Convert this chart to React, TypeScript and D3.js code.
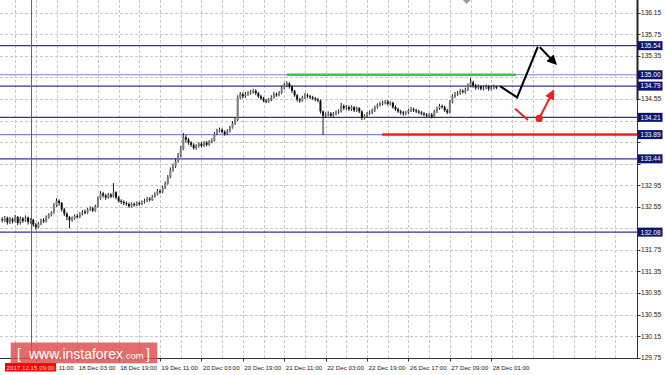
import React from 'react';
import * as d3 from 'd3';

// ---------- data ----------
const firstOpen = 132.32;
const closes = [
  132.30,132.34,132.26,132.32,132.28,132.36,132.25,132.33,132.29,132.35,132.27,132.31,
  132.22,132.17,
  132.24,132.30,132.28,132.36,132.40,132.44,
  132.58,132.66,132.62,
  132.50,132.42,132.36,132.30,
  132.34,132.38,132.36,132.42,132.46,132.44,132.50,132.52,132.48,132.56,
  132.70,132.80,
  132.76,132.72,132.78,132.74,132.82,
  132.72,132.66,132.64,132.62,
  132.60,132.56,132.60,132.58,132.62,132.60,132.64,132.66,
  132.70,132.68,132.74,132.78,
  132.84,132.82,132.90,
  132.98,133.10,133.24,133.30,133.40,133.50,
  133.62,133.84,133.80,
  133.74,133.70,133.64,133.68,
  133.72,133.68,133.74,133.70,133.76,133.78,
  133.90,133.96,
  133.98,133.94,133.90,133.96,134.02,
  134.10,134.16,
  134.58,
  134.64,134.60,134.64,134.66,
  134.68,134.70,134.66,
  134.60,134.56,134.52,134.50,134.54,
  134.58,134.64,134.62,134.66,
  134.76,134.80,134.84,134.78,
  134.70,134.62,134.54,134.52,
  134.58,134.62,134.60,134.58,
  134.56,134.54,134.52,
  134.32,134.24,
  134.26,134.28,134.24,134.28,134.30,134.32,
  134.42,134.38,134.40,134.36,134.40,
  134.34,134.38,134.32,
  134.20,
  134.24,134.28,134.30,134.34,134.40,134.44,
  134.46,134.48,134.50,134.46,134.48,
  134.40,134.36,134.32,134.30,134.28,134.30,134.34,
  134.36,134.34,134.32,134.30,
  134.28,134.26,134.24,134.26,134.22,
  134.32,134.38,134.42,
  134.40,134.34,134.30,
  134.50,134.60,134.64,
  134.66,134.70,134.68,134.72,134.80,
  134.86,
  134.80,134.76,134.78,134.74,134.76,
  134.78,134.74,134.76,134.78,134.76,
];
const highs = [
  132.36,132.38,132.37,132.36,132.35,132.40,132.38,132.37,132.36,132.39,132.37,132.34,
  132.33,132.25,
  132.27,132.33,132.34,132.39,132.43,132.47,
  132.62,132.71,132.69,
  132.64,132.53,132.45,132.38,
  132.37,132.41,132.42,132.45,132.49,132.50,132.53,132.56,132.55,132.59,
  132.74,132.84,
  132.83,132.79,132.81,132.80,132.99,
  132.84,132.75,132.69,132.67,
  132.65,132.63,132.63,132.63,132.65,132.65,132.67,132.70,
  132.73,132.73,132.77,132.82,
  132.88,132.88,132.94,
  133.02,133.14,133.28,133.35,133.44,133.55,
  133.68,133.92,133.88,
  133.83,133.77,133.73,133.71,
  133.75,133.75,133.77,133.77,133.79,133.82,
  133.94,134.00,
  134.02,134.01,133.97,133.99,134.05,
  134.14,134.20,
  134.62,
  134.68,134.67,134.68,134.70,
  134.72,134.74,134.73,
  134.68,134.63,134.59,134.55,134.57,
  134.62,134.68,134.67,134.70,
  134.80,134.85,134.88,134.86,
  134.80,134.72,134.64,134.57,
  134.61,134.66,134.65,134.63,
  134.61,134.59,134.57,
  134.54,134.34,
  134.30,134.32,134.31,134.31,134.34,134.36,
  134.48,134.45,134.44,134.43,134.43,
  134.42,134.41,134.40,
  134.34,
  134.27,134.31,134.34,134.37,134.43,134.47,
  134.50,134.52,134.53,134.53,134.51,
  134.50,134.43,134.39,134.35,134.33,134.33,134.37,
  134.40,134.39,134.37,134.35,
  134.33,134.31,134.29,134.29,134.29,
  134.35,134.41,134.46,
  134.45,134.43,134.37,
  134.53,134.64,134.68,
  134.70,134.74,134.73,134.76,134.84,
  134.94,
  134.89,134.83,134.82,134.81,134.80,
  134.82,134.81,134.80,134.82,134.80,
];
const lows = [
  132.26,132.27,132.22,132.23,132.24,132.26,132.21,132.22,132.25,132.27,132.22,132.24,
  132.18,132.12,
  132.15,132.21,132.25,132.26,132.33,132.37,
  132.42,132.55,132.57,
  132.46,132.38,132.30,132.15,
  132.27,132.31,132.33,132.34,132.39,132.41,132.42,132.47,132.45,132.46,
  132.54,132.68,
  132.72,132.68,132.70,132.71,132.72,
  132.69,132.63,132.60,132.58,
  132.57,132.53,132.54,132.55,132.56,132.57,132.58,132.61,
  132.64,132.65,132.66,132.72,
  132.76,132.79,132.80,
  132.88,132.96,133.08,133.20,133.27,133.37,
  133.47,133.60,133.74,
  133.70,133.66,133.61,133.61,
  133.65,133.65,133.66,133.67,133.68,133.73,
  133.76,133.88,
  133.93,133.91,133.87,133.88,133.93,
  134.00,134.07,
  134.14,
  134.55,134.56,134.57,134.61,
  134.63,134.65,134.62,
  134.57,134.53,134.49,134.47,134.48,
  134.51,134.56,134.59,134.60,
  134.64,134.73,134.77,134.74,
  134.66,134.59,134.50,134.48,
  134.50,134.55,134.57,134.55,
  134.53,134.51,134.49,
  134.28,133.88,
  134.20,134.23,134.21,134.21,134.25,134.27,
  134.30,134.35,134.35,134.33,134.33,
  134.31,134.31,134.29,
  134.16,
  134.17,134.21,134.25,134.27,134.31,134.37,
  134.41,134.43,134.45,134.43,134.43,
  134.37,134.33,134.29,134.26,134.24,134.25,134.27,
  134.31,134.31,134.29,134.27,
  134.25,134.23,134.21,134.21,134.19,
  134.20,134.29,134.35,
  134.37,134.31,134.27,
  134.28,134.47,134.57,
  134.61,134.63,134.65,134.65,134.70,
  134.77,
  134.76,134.72,134.73,134.71,134.71,
  134.73,134.70,134.71,134.73,134.73,
];

const priceTicks = [136.15,135.75,135.35,134.95,134.55,134.15,133.75,133.35,132.95,132.55,132.15,131.75,131.35,130.95,130.55,130.15,129.75];
const timeLabelBars = [13,29,45,61,77,93,109,125,141,157,173,189];
const timeLabels = ['15 Dec 11:00','18 Dec 03:00','18 Dec 19:00','19 Dec 11:00','20 Dec 03:00','20 Dec 19:00','21 Dec 11:00','22 Dec 03:00','22 Dec 19:00','26 Dec 17:00','27 Dec 09:00','28 Dec 01:00'];
const levels = [135.54,135.00,134.79,134.21,133.89,133.44,132.08];
const markerBar = 11; // 2017.12.15 09:00
const markerLabel = '2017.12.15 09:00';

// forecast annotations (bar index, price)
const greenBars = [110, 198.6];
const greenPrice = 135.00;
const redLevelStartBar = 146.8;
const redLevelPrice = 133.89;
const blackPathBars = [192.4, 199.0, 207.0];
const blackPathPrices = [134.79, 134.58, 135.52];
const blackArrowBars = [207.8, 213.6];
const blackArrowPrices = [135.51, 135.22];
const redPathBars = [198.2, 203.2];
const redPathPrices = [134.37, 134.16];
const redArrowBars = [207.5, 212.8];
const redArrowPrices = [134.19, 134.68];

export default function App() {
  const W = 665, H = 375;
  const plotRight = 637.5, plotBottom = 358.5;
  const x = d3.scaleLinear().domain([0, 245]).range([2.2, 2.2 + 245 * 2.5875]);
  const y = d3.scaleLinear().domain([129.75, 136.15]).range([357.7, 12.8]);
  const opens = closes.map((c, i) => (i === 0 ? firstOpen : closes[i - 1]));
  const gridBars = d3.range(5, 240, 8);
  const line = d3.line<[number, number]>().x(d => x(d[0])).y(d => y(d[1]));
  const zip = (a: number[], b: number[]) => a.map((v, i) => [v, b[i]] as [number, number]);
  const font = 'Liberation Sans, Arial, sans-serif';
  const lightLevels = new Set([135.0, 133.89]);
  // axis tick labels that sit right under a highlighted level box are drawn clipped
  const covered = (t: number) => levels.some(l => Math.abs(y(l) - y(t)) < 9);

  return (
    <div style={{ position: 'absolute', left: 0, top: 0 }}>
      <svg width={W} height={H} style={{ display: 'block', background: '#fff' }}>
        <defs>
          <marker id="ahB" viewBox="0 0 10 10" refX="7" refY="5" markerWidth="5" markerHeight="5" orient="auto" markerUnits="strokeWidth">
            <path d="M0,0 L10,5 L0,10 z" fill="#000" />
          </marker>
          <marker id="ahR" viewBox="0 0 10 10" refX="7" refY="5" markerWidth="5" markerHeight="5" orient="auto" markerUnits="strokeWidth">
            <path d="M0,0 L10,5 L0,10 z" fill="#ee2222" />
          </marker>
        </defs>
        {/* grid */}
        {priceTicks.map(t => (
          <line key={'hg' + t} x1={0} x2={plotRight} y1={Math.round(y(t)) + 0.5} y2={Math.round(y(t)) + 0.5}
            stroke="#c8c8c8" strokeDasharray="3,2" />
        ))}
        {gridBars.map(b => (
          <line key={'vg' + b} x1={Math.round(x(b)) + 0.5} x2={Math.round(x(b)) + 0.5} y1={0} y2={plotBottom}
            stroke="#c8c8c8" strokeDasharray="3,2" />
        ))}
        {/* levels */}
        {levels.map(l => (
          <line key={'lv' + l} x1={0} x2={plotRight} y1={y(l)} y2={y(l)}
            stroke={lightLevels.has(l) ? '#8484c4' : '#34348f'} strokeWidth={1.2} />
        ))}
        {/* marker vertical line */}
        <line x1={Math.round(x(markerBar)) + 0.5} x2={Math.round(x(markerBar)) + 0.5} y1={0} y2={plotBottom} stroke="#e03030" strokeWidth={1} />
        {/* candles */}
        {closes.map((c, i) => {
          const o = opens[i];
          const xc = x(i);
          const top = y(Math.max(o, c));
          const bot = y(Math.min(o, c));
          const bull = c >= o;
          return (
            <g key={'c' + i}>
              <line x1={xc} x2={xc} y1={y(highs[i])} y2={y(lows[i])} stroke="#1a1a1a" strokeWidth={1} />
              <rect x={xc - 1} width={2} y={top} height={Math.max(1, bot - top)} fill={bull ? '#7d7d7d' : '#111'} />
            </g>
          );
        })}
        {/* green & red level segments */}
        <line x1={x(greenBars[0])} x2={x(greenBars[1])} y1={y(greenPrice)} y2={y(greenPrice)} stroke="#3cc83c" strokeWidth={2.5} />
        <line x1={x(redLevelStartBar)} x2={plotRight} y1={y(redLevelPrice)} y2={y(redLevelPrice)} stroke="#ee2222" strokeWidth={2.5} />
        {/* forecast arrows */}
        <path d={line(zip(blackPathBars, blackPathPrices)) || ''} fill="none" stroke="#000" strokeWidth={2} />
        <path d={line(zip(blackArrowBars, blackArrowPrices)) || ''} fill="none" stroke="#000" strokeWidth={2} markerEnd="url(#ahB)" />
        <path d={line(zip(redPathBars, redPathPrices)) || ''} fill="none" stroke="#ee2222" strokeWidth={2} />
        <path d={line(zip(redArrowBars, redArrowPrices)) || ''} fill="none" stroke="#ee2222" strokeWidth={2} markerEnd="url(#ahR)" />
        <circle cx={x(redArrowBars[0])} cy={y(redArrowPrices[0])} r={3.6} fill="#ee2222" />
        {/* frame */}
        <line x1={plotRight} x2={plotRight} y1={0} y2={plotBottom} stroke="#333" />
        <line x1={plotRight} x2={plotRight} y1={0} y2={100} stroke="#222" strokeWidth={2} />
        <line x1={0} x2={plotRight} y1={plotBottom} y2={plotBottom} stroke="#333" />
        <path d={`M${x(178)},0 L${x(181)},0 L${x(179.5)},4 Z`} fill="#9a9a9a" />
        {/* price axis */}
        {priceTicks.map(t => (
          <g key={'pt' + t}>
            <line x1={plotRight} x2={plotRight + 3} y1={Math.round(y(t)) + 0.5} y2={Math.round(y(t)) + 0.5} stroke="#333" />
            {!covered(t) && (
              <text x={641} y={y(t) + 2.4} fontSize={6.6} fontFamily={font} fill="#222">{t.toFixed(2)}</text>
            )}
          </g>
        ))}
        {levels.map(l => (
          <g key={'pl' + l}>
            <rect x={638} y={y(l) - 4.5} width={24.5} height={9} fill="#0c1470" />
            <text x={640.5} y={y(l) + 2.4} fontSize={6.6} fontFamily={font} fill="#fff">{l.toFixed(2)}</text>
          </g>
        ))}
        {/* time axis */}
        {timeLabelBars.map((b, i) => (
          <g key={'tl' + b}>
            <line x1={Math.round(x(b)) + 0.5} x2={Math.round(x(b)) + 0.5} y1={plotBottom} y2={plotBottom + 3} stroke="#333" />
            <text x={x(b) + 1.5} y={369.5} fontSize={6.2} fontFamily={font} fill="#222">{timeLabels[i]}</text>
          </g>
        ))}
        <rect x={5} y={363} width={51} height={8.5} fill="#f00" />
        <text x={6.5} y={369.8} fontSize={6.2} fontFamily={font} fill="#ffd8d8">{markerLabel}</text>
        {/* logo */}
        <rect x={10.7} y={342.5} width={146.5} height={20.8} fill="#dd4a4a" opacity={0.82} />
        <text x={17} y={358.5} fontSize={14} fontFamily={font} fill="#fff">[</text>
        <text x={29} y={358.5} fontSize={14} fontFamily={font} fill="#fff" textLength={94} lengthAdjust="spacingAndGlyphs">www.instaforex</text>
        <text x={123} y={358.5} fontSize={9.5} fontFamily={font} fill="#fff">.com</text>
        <text x={146} y={358.5} fontSize={14} fontFamily={font} fill="#fff">]</text>
      </svg>
    </div>
  );
}
